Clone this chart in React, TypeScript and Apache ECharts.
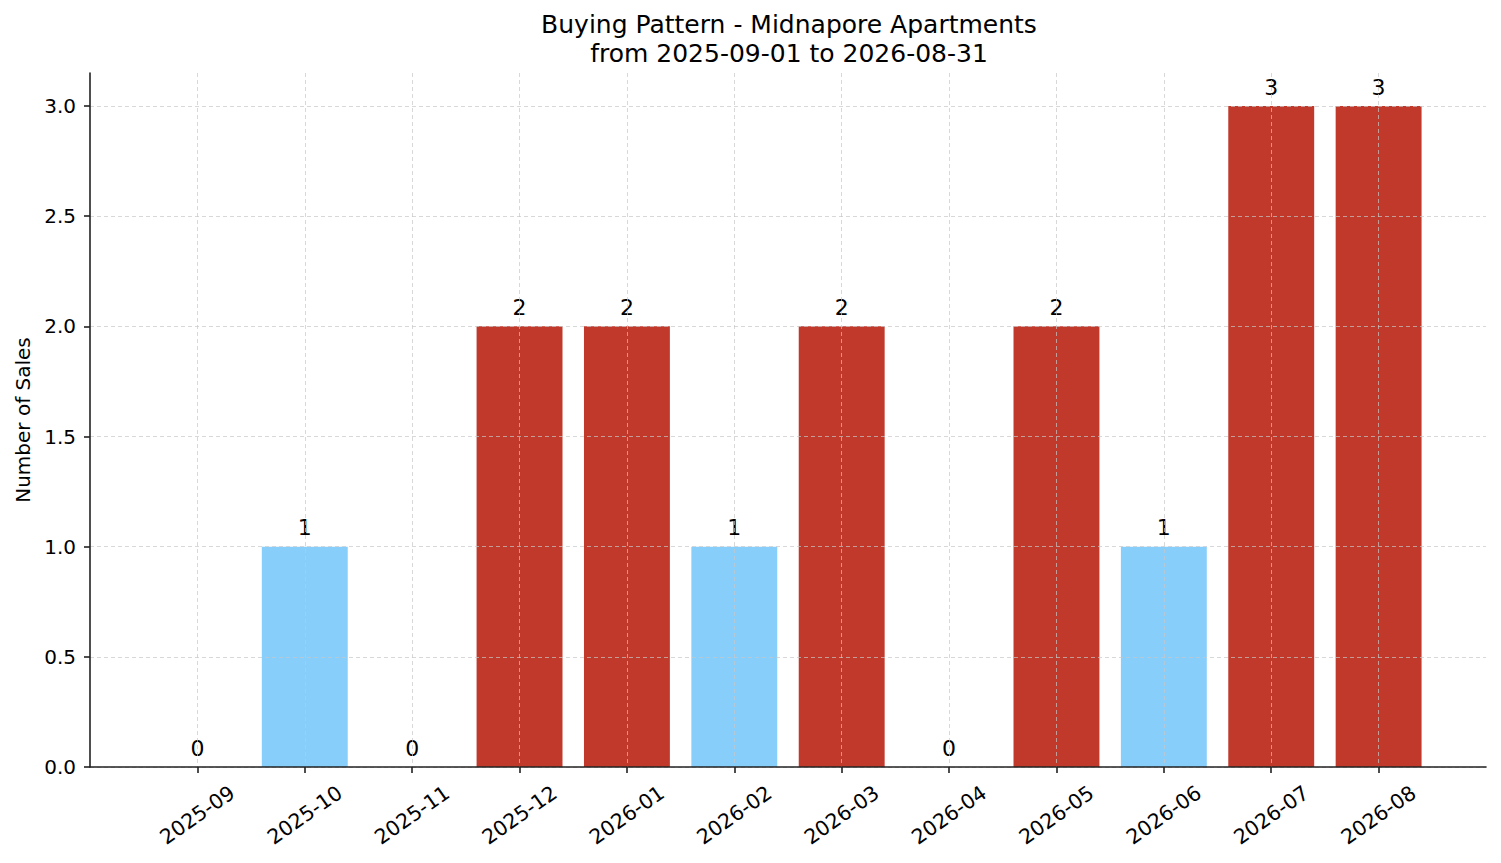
import React, { useEffect, useRef } from "react";
import * as echarts from "echarts";

// months of the period, padded by an empty slot at each end of the axis
const months = [
  "2025-09", "2025-10", "2025-11", "2025-12", "2026-01", "2026-02",
  "2026-03", "2026-04", "2026-05", "2026-06", "2026-07", "2026-08",
];
const sales = [0, 1, 0, 2, 2, 1, 2, 0, 2, 1, 3, 3];
const yTicks = [0, 0.5, 1, 1.5, 2, 2.5, 3];

const RED = "#c0392b";
const BLUE = "#87cefa";
const FONT = "DejaVu Sans";
const GRID_COLOR = "rgba(200,200,200,0.7)";

const style: React.CSSProperties = { position: "absolute", left: 0, top: 0, width: "1501px", height: "863px" };

const App: React.FC = () => {
  const chartRef = useRef<HTMLDivElement>(null);

  useEffect(() => {
    if (!chartRef.current) return;
    const mean = sales.reduce((a, b) => a + b, 0) / sales.length;
    const cats = ["", ...months, ""];
    const barData: any[] = [
      null,
      ...sales.map((v) => ({ value: v, itemStyle: { color: v > mean ? RED : BLUE } })),
      null,
    ];
    const isReal = (_i: number, v: string) => v !== "";

    const option = {
      animation: false,
      backgroundColor: "#fff",
      textStyle: { fontFamily: FONT },
      title: {
        text: "Buying Pattern - Midnapore Apartments\nfrom 2025-09-01 to 2026-08-31",
        left: 784,
        top: 5,
        textAlign: "center",
        textStyle: { fontFamily: FONT, fontSize: 25, fontWeight: "normal", color: "#000", lineHeight: 29 },
      },
      grid: { left: 90, right: 15, top: 73, bottom: 96, containLabel: false },
      xAxis: {
        type: "category",
        data: cats,
        boundaryGap: false,
        z: 3,
        axisLine: { lineStyle: { color: "#222", width: 1.6 } },
        axisTick: { show: true, interval: isReal, length: 6, lineStyle: { color: "#222", width: 1.6 } },
        axisLabel: {
          interval: isReal,
          rotate: 35,
          align: "center",
          verticalAlign: "middle",
          margin: 48,
          fontFamily: FONT,
          fontSize: 20.5,
          color: "#000",
        },
        splitLine: { show: true, interval: isReal, lineStyle: { color: GRID_COLOR, type: [4, 3], width: 1 } },
      },
      yAxis: {
        type: "value",
        min: 0,
        max: 3.15,
        z: 3,
        name: "Number of Sales",
        nameLocation: "middle",
        nameGap: 55,
        nameTextStyle: { fontFamily: FONT, fontSize: 20, color: "#000" },
        axisLine: { show: true, lineStyle: { color: "#222", width: 1.6 } },
        axisTick: { show: true, customValues: yTicks, length: 6, lineStyle: { color: "#222", width: 1.6 } },
        axisLabel: {
          customValues: yTicks,
          formatter: (v: number) => v.toFixed(1),
          margin: 14,
          fontFamily: FONT,
          fontSize: 20,
          color: "#000",
        },
        splitLine: { show: true, lineStyle: { color: GRID_COLOR, type: [4, 3], width: 1 } },
      },
      series: [
        {
          type: "bar",
          data: barData,
          barWidth: "80%",
          label: {
            show: true,
            position: "top",
            distance: 8,
            fontFamily: FONT,
            fontSize: 22,
            color: "#000",
          },
        },
      ],
    };

    const myChart = echarts.init(chartRef.current, null, { renderer: "svg" });
    myChart.setOption(option);

    return () => {
      myChart.dispose();
    };
  }, []);

  return <div ref={chartRef} style={style} />;
};

export default App;
